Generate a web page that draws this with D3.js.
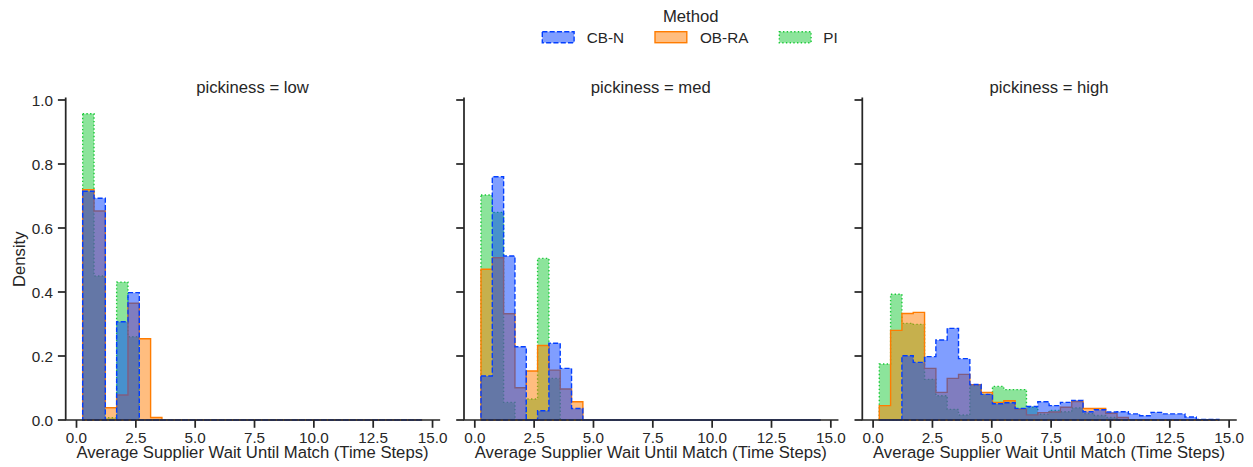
<!DOCTYPE html>
<html>
<head>
<meta charset="utf-8">
<script src="https://cdn.jsdelivr.net/npm/d3@7"></script>
<style>
  body { margin: 0; background: #ffffff; }
  svg { display: block; }
  text { font-family: "Liberation Sans", Arial, Helvetica, sans-serif; fill: #262626; }
</style>
</head>
<body>
<svg id="chart" width="1253" height="467"></svg>
<script>
// Shared histogram bin edges (time steps)
const binEdges = [0.26, 0.737, 1.214, 1.691, 2.168, 2.645, 3.122, 3.599, 4.076, 4.553,
  5.03, 5.507, 5.984, 6.461, 6.938, 7.415, 7.892, 8.369, 8.846, 9.323,
  9.8, 10.277, 10.754, 11.231, 11.708, 12.185, 12.662, 13.139, 13.616, 14.093, 14.57];

const methods = ["CB-N", "OB-RA", "PI"];
const pickinessLevels = ["low", "med", "high"];

// Density per bin, pickiness = low
const lowCBN  = [0.715, 0.693, 0, 0.307, 0.398, 0, 0, 0, 0, 0, 0, 0, 0, 0, 0, 0, 0, 0, 0, 0, 0, 0, 0, 0, 0, 0, 0, 0, 0, 0];
const lowOBRA = [0.72, 0.653, 0.0385, 0.078, 0.365, 0.254, 0.008, 0, 0, 0, 0, 0, 0, 0, 0, 0, 0, 0, 0, 0, 0, 0, 0, 0, 0, 0, 0, 0, 0, 0];
const lowPI   = [0.957, 0.45, 0.007, 0.431, 0.26, 0, 0, 0, 0, 0, 0, 0, 0, 0, 0, 0, 0, 0, 0, 0, 0, 0, 0, 0, 0, 0, 0, 0, 0, 0];

// Density per bin, pickiness = med
const medCBN  = [0.1375, 0.76, 0.5125, 0.229, 0, 0.029, 0.24, 0.1615, 0.036, 0, 0, 0, 0, 0, 0, 0, 0, 0, 0, 0, 0, 0, 0, 0, 0, 0, 0, 0, 0, 0];
const medOBRA = [0.471, 0.507, 0.332, 0.101, 0.153, 0.233, 0.156, 0.097, 0.057, 0, 0, 0, 0, 0, 0, 0, 0, 0, 0, 0, 0, 0, 0, 0, 0, 0, 0, 0, 0, 0];
const medPI   = [0.703, 0.649, 0.055, 0, 0.0656, 0.505, 0.13, 0, 0, 0, 0, 0, 0, 0, 0, 0, 0, 0, 0, 0, 0, 0, 0, 0, 0, 0, 0, 0, 0, 0];

// Density per bin, pickiness = high
const highCBN  = [0, 0, 0.201, 0.18, 0.198, 0.25, 0.2865, 0.1917, 0.111, 0.08, 0.051, 0.054, 0.0365, 0.042, 0.057,
  0.045, 0.055, 0.0615, 0.026, 0.032, 0.025, 0.026, 0.019, 0.0135, 0.024, 0.019, 0.019, 0.0094, 0.002, 0.002];
const highOBRA = [0.045, 0.28, 0.333, 0.3365, 0.1615, 0.0865, 0.13, 0.1427, 0.11, 0.0865, 0.055, 0.06, 0.034, 0.016, 0.023,
  0.025, 0.04, 0.058, 0.036, 0.036, 0.021, 0.008, 0, 0, 0, 0, 0, 0, 0, 0];
const highPI   = [0.175, 0.393, 0.302, 0.299, 0.127, 0.076, 0.0333, 0.0156, 0.108, 0.08, 0.105, 0.095, 0.095, 0.04, 0.018,
  0.03, 0.026, 0.038, 0.02, 0.014, 0.008, 0, 0, 0, 0, 0, 0, 0, 0, 0];

const xTicks = [0, 2.5, 5, 7.5, 10, 12.5, 15];
const xTickLabels = ["0.0", "2.5", "5.0", "7.5", "10.0", "12.5", "15.0"];
const yTicks = [0, 0.2, 0.4, 0.6, 0.8, 1.0];
const yTickLabels = ["0.0", "0.2", "0.4", "0.6", "0.8", "1.0"];

const densities = {
  low:  { "CB-N": lowCBN,  "OB-RA": lowOBRA,  "PI": lowPI },
  med:  { "CB-N": medCBN,  "OB-RA": medOBRA,  "PI": medPI },
  high: { "CB-N": highCBN, "OB-RA": highOBRA, "PI": highPI }
};

// Per-method styling
const color = { "CB-N": "#023eff", "OB-RA": "#ff7c00", "PI": "#1ac938" };
const dash  = { "CB-N": "5.1,2.2", "OB-RA": null, "PI": "1.4,2.3" };
const drawOrder = ["PI", "OB-RA", "CB-N"];

const ink = "#262626";
const edgeWidth = 1.39;
const spineWidth = 1.74;
const tickLen = 7.8;

const svg = d3.select("#chart");

const panelLefts = [65.7, 464, 862.3];
const panelWidth = 373.6;
const plotTop = 98.4, plotBottom = 420;

const x = d3.scaleLinear().domain([-0.455, 15.285]).range([0, panelWidth]);
const y = d3.scaleLinear().domain([0, 1.005]).range([plotBottom, plotTop]);

const area = d3.area()
  .curve(d3.curveStepAfter)
  .x(d => x(d[0]))
  .y0(y(0))
  .y1(d => y(d[1]));

pickinessLevels.forEach((level, i) => {
  const g = svg.append("g").attr("transform", `translate(${panelLefts[i]},0)`);

  drawOrder.forEach(m => {
    const vals = densities[level][m];
    const pts = vals.map((v, k) => [binEdges[k], v]);
    pts.push([binEdges[binEdges.length - 1], vals[vals.length - 1]]);
    g.append("path")
      .attr("d", area(pts))
      .attr("fill", color[m])
      .attr("fill-opacity", 0.5)
      .attr("stroke", color[m])
      .attr("stroke-width", edgeWidth)
      .attr("stroke-dasharray", dash[m])
      .attr("stroke-linejoin", "miter");
  });

  // Spines
  g.append("path")
    .attr("d", `M0,${plotTop}V${plotBottom}H${panelWidth}`)
    .attr("fill", "none")
    .attr("stroke", ink)
    .attr("stroke-width", spineWidth)
    .attr("stroke-linecap", "square");

  // X ticks
  xTicks.forEach((t, k) => {
    g.append("line")
      .attr("x1", x(t)).attr("x2", x(t))
      .attr("y1", plotBottom).attr("y2", plotBottom + tickLen)
      .attr("stroke", ink).attr("stroke-width", spineWidth);
    g.append("text")
      .attr("x", x(t)).attr("y", 442.6)
      .attr("text-anchor", "middle")
      .attr("font-size", "15.28px")
      .text(xTickLabels[k]);
  });

  // Y ticks
  yTicks.forEach((t, k) => {
    g.append("line")
      .attr("x1", -tickLen).attr("x2", 0)
      .attr("y1", y(t)).attr("y2", y(t))
      .attr("stroke", ink).attr("stroke-width", spineWidth);
    if (i === 0) {
      g.append("text")
        .attr("x", -12.6).attr("y", y(t))
        .attr("dy", "0.36em")
        .attr("text-anchor", "end")
        .attr("font-size", "15.28px")
        .text(yTickLabels[k]);
    }
  });

  // Facet title
  g.append("text")
    .attr("x", panelWidth / 2).attr("y", 92.5)
    .attr("text-anchor", "middle")
    .attr("font-size", "16.67px")
    .text(`pickiness = ${level}`);

  // X axis label
  g.append("text")
    .attr("x", panelWidth / 2).attr("y", 457.8)
    .attr("text-anchor", "middle")
    .attr("font-size", "16.67px")
    .text("Average Supplier Wait Until Match (Time Steps)");
});

// Y axis label
svg.append("text")
  .attr("transform", `translate(24.6,${(plotTop + plotBottom) / 2}) rotate(-90)`)
  .attr("text-anchor", "middle")
  .attr("font-size", "16.67px")
  .text("Density");

// Legend
const legend = svg.append("g");
legend.append("text")
  .attr("x", 690.7).attr("y", 21.6)
  .attr("text-anchor", "middle")
  .attr("font-size", "16.67px")
  .text("Method");

const legendPatchX = [542.3, 655, 779.3];
const legendTextX = [586.7, 700, 823.3];
methods.forEach((m, k) => {
  legend.append("rect")
    .attr("x", legendPatchX[k]).attr("y", 31.7)
    .attr("width", 31.8).attr("height", 11)
    .attr("fill", color[m]).attr("fill-opacity", 0.5)
    .attr("stroke", color[m]).attr("stroke-width", edgeWidth)
    .attr("stroke-dasharray", dash[m]);
  legend.append("text")
    .attr("x", legendTextX[k]).attr("y", 43.2)
    .attr("font-size", "15.28px")
    .text(m);
});
</script>
</body>
</html>
